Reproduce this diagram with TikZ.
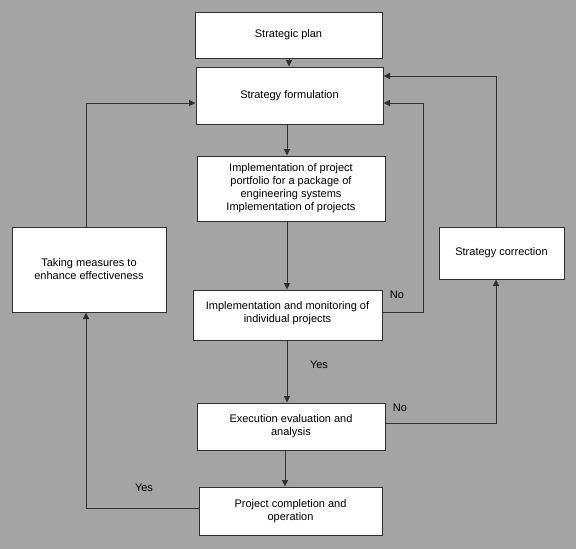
\documentclass[tikz,border=0pt]{standalone}
\usepackage{fontspec}
\setmainfont{Liberation Sans}
\usetikzlibrary{arrows.meta}
\definecolor{bg}{HTML}{A4A4A4}
\definecolor{ln}{HTML}{303030}
\begin{document}
\begin{tikzpicture}[x=1pt,y=-1pt,
  box/.style={draw=ln,line width=1pt,fill=white,align=center,inner sep=2pt,
    font=\fontsize{11}{13}\selectfont},
  conn/.style={draw=ln,line width=1pt,-{Triangle[length=6.5pt,width=6pt]}},
  lbl/.style={font=\fontsize{11}{13}\selectfont,inner sep=0pt}]
\fill[bg] (0,0) rectangle (576,549);
\useasboundingbox (0,0) rectangle (576,549);
\node[box,minimum width=187pt,minimum height=46pt] (plan) at (288.5,35) {Strategic plan};
\node[box,minimum width=187pt,minimum height=57pt] (form) at (289.5,95.5) {Strategy formulation};
\node[box,minimum width=188pt,minimum height=65pt] (port) at (291,188.5) {Implementation of project\\portfolio for a package of\\engineering systems\\Implementation of projects};
\node[box,minimum width=189pt,minimum height=50pt,text depth=6pt] (mon) at (287.5,315) {Implementation and monitoring of\\individual projects};
\node[box,minimum width=188pt,minimum height=47pt] (exec) at (291,426.5) {Execution evaluation and\\analysis};
\node[box,minimum width=183pt,minimum height=48pt] (proj) at (290.5,511) {Project completion and\\operation};
\node[box,minimum width=154pt,minimum height=85pt] (meas) at (89,269.5) {Taking measures to\\enhance effectiveness};
\node[box,minimum width=125pt,minimum height=52pt] (corr) at (501.5,253) {Strategy correction};

\coordinate (a1) at (289,0);
\draw[conn] (plan.south -| a1) -- (form.north -| a1);
\coordinate (a2) at (287,0);
\draw[conn] (form.south -| a2) -- (port.north -| a2);
\draw[conn] (port.south -| a2) -- (mon.north -| a2);
\draw[conn] (mon.south -| a2) -- (exec.north -| a2);
\coordinate (a3) at (285,0);
\draw[conn] (exec.south -| a3) -- (proj.north -| a3);

\coordinate (r1) at (423,312);
\coordinate (r1t) at (423,103);
\draw[conn] (mon.east |- r1) -- (r1) -- (r1t) -- (form.east |- r1t);
\coordinate (r2) at (496,423);
\draw[conn] (exec.east |- r2) -- (r2) -- (corr.south -| r2);
\coordinate (r3) at (496,76);
\draw[conn] (corr.north -| r3) -- (r3) -- (form.east |- r3);
\coordinate (l1) at (86,508);
\draw[conn] (proj.west |- l1) -- (l1) -- (meas.south -| l1);
\coordinate (l2) at (86,103);
\draw[conn] (meas.north -| l2) -- (l2) -- (form.west |- l2);

\node[lbl] (no1) at (397,295) {No};
\node[lbl] (no2) at (400,408) {No};
\node[lbl] (yes1) at (319,365) {Yes};
\node[lbl] (yes2) at (144,488) {Yes};
\end{tikzpicture}
\end{document}
